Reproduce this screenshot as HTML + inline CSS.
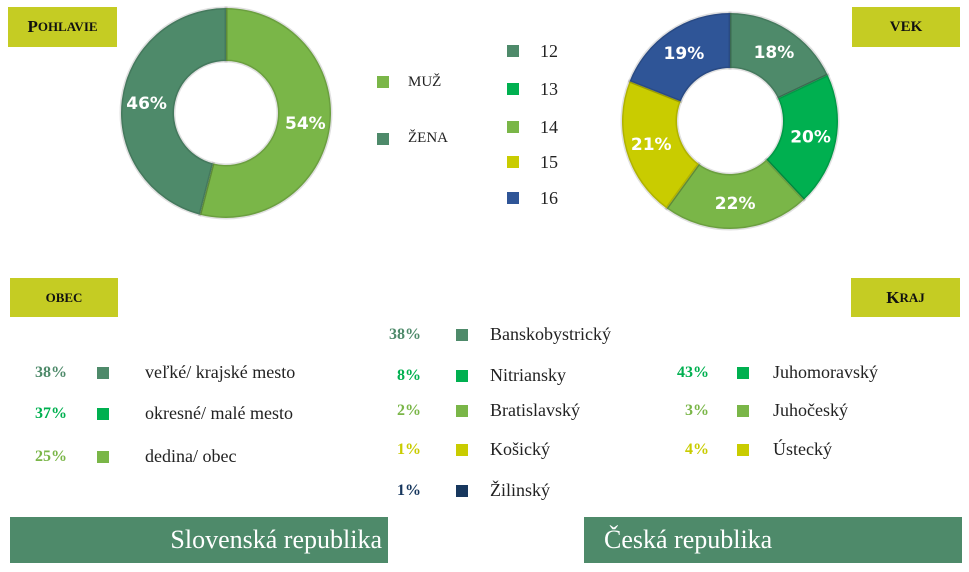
<!DOCTYPE html>
<html><head><meta charset="utf-8">
<style>
body{margin:0;width:969px;height:572px;background:#fff;position:relative;overflow:hidden;font-family:"Liberation Serif",serif;}
.tag{position:absolute;background:#c5cc23;color:#111;font-weight:bold;display:flex;align-items:center;justify-content:center;font-size:15px;}
.t{position:absolute;font-size:18px;color:#222;white-space:nowrap;line-height:1;}
.p{position:absolute;font-size:16px;font-weight:bold;white-space:nowrap;line-height:1;}
.sq{position:absolute;width:12px;height:12px;}
.bar{position:absolute;background:#4e8a6a;color:#fff;font-size:26px;display:flex;align-items:center;height:46px;top:517px;}
svg{position:absolute;left:0;top:0;}
</style></head><body>
<div class="tag" style="left:8px;top:7px;width:109px;height:40px;font-size:17px">P<span style="font-size:13px">OHLAVIE</span></div>
<div class="tag" style="left:852px;top:7px;width:108px;height:40px">VEK</div>
<div class="tag" style="left:10px;top:278px;width:108px;height:39px;font-size:13px">OBEC</div>
<div class="tag" style="left:851px;top:278px;width:109px;height:39px;font-size:17px">K<span style="font-size:13px">RAJ</span></div>

<svg width="969" height="572" id="chart"></svg>

<div class="sq" style="left:377px;top:76px;background:#7ab648"></div>
<div class="t" style="left:408px;top:75px;font-size:15px">MUŽ</div>
<div class="sq" style="left:377px;top:133px;background:#4e8a6a"></div>
<div class="t" style="left:408px;top:131px;font-size:15px">ŽENA</div>

<div id="agelegend"></div>

<div class="bar" style="left:10px;width:378px;justify-content:flex-end;padding-right:6px;box-sizing:border-box">Slovenská republika</div>
<div class="bar" style="left:584px;width:378px;padding-left:20px;box-sizing:border-box">Česká republika</div>

<div id="lists"></div>

<script>
const genderLabels=["MUŽ","ŽENA"];
const genderValues=[54,46];
const genderColors=["#7ab648","#4e8a6a"];
const ageLabels=["12","13","14","15","16"];
const ageValues=[18,20,22,21,19];
const ageColors=["#4e8a6a","#00b050","#7ab648","#c9cc00","#2f5597"];
const obecLabels=["veľké/ krajské mesto","okresné/ malé mesto","dedina/ obec"];
const obecValues=[38,37,25];
const obecColors=["#4e8a6a","#00b050","#7ab648"];
const skLabels=["Banskobystrický","Nitriansky","Bratislavský","Košický","Žilinský"];
const skValues=[38,8,2,1,1];
const skColors=["#4e8a6a","#00b050","#7ab648","#c9cc00","#17375e"];
const czLabels=["Juhomoravský","Juhočeský","Ústecký"];
const czValues=[43,3,4];
const czColors=["#00b050","#7ab648","#c9cc00"];

const NS="http://www.w3.org/2000/svg";
const svg=document.getElementById('chart');
function donut(cx,cy,R,r,vals,cols,name,labR){
  const tot=vals.reduce((a,b)=>a+b,0);let a0=0;
  vals.forEach((v,i)=>{
    const a1=a0+v/tot*2*Math.PI;
    const pt=(rad,a)=>[cx+rad*Math.sin(a),cy-rad*Math.cos(a)];
    const [x1,y1]=pt(R,a0),[x2,y2]=pt(R,a1),[x3,y3]=pt(r,a1),[x4,y4]=pt(r,a0);
    const lg=(a1-a0)>Math.PI?1:0;
    const p=document.createElementNS(NS,'path');
    p.setAttribute('d',`M${x1},${y1}A${R},${R} 0 ${lg} 1 ${x2},${y2}L${x3},${y3}A${r},${r} 0 ${lg} 0 ${x4},${y4}Z`);
    p.setAttribute('fill',cols[i]);p.setAttribute('stroke','rgba(0,0,0,0.12)');p.setAttribute('stroke-width','3');
    
    
    svg.appendChild(p);
    const am=(a0+a1)/2;const [lx,ly]=pt(labR,am);
    const t=document.createElementNS(NS,'text');
    t.setAttribute('x',lx);t.setAttribute('y',ly+6);t.setAttribute('text-anchor','middle');
    t.setAttribute('fill','#fff');t.setAttribute('font-weight','bold');t.setAttribute('font-size','17');
    t.setAttribute('font-family','"DejaVu Sans","Liberation Sans",sans-serif');
    t.textContent=v+'%';
    
    
    svg.appendChild(t);
    a0=a1;
  });
}
donut(226,113,105,52,genderValues,genderColors,'gender',80);
donut(730,121,108,53,ageValues,ageColors,'age',82);

const al=document.getElementById('agelegend');
ageLabels.forEach((l,i)=>{
  const ys=[45,83,121,156,192][i];
  const s=document.createElement('div');s.className='sq';s.style.cssText=`left:507px;top:${ys}px;background:${ageColors[i]}`;
  
  
  al.appendChild(s);
  const t=document.createElement('div');t.className='t';t.style.cssText=`left:540px;top:${ys-3}px;`;t.textContent=l;
  
  
  al.appendChild(t);
});

const lists=document.getElementById('lists');
function list(labels,vals,cols,ys,pctRight,sqX,txtX,name){
  labels.forEach((l,i)=>{
    const y=ys[i];
    const p=document.createElement('div');p.className='p';p.style.cssText=`right:${969-pctRight}px;top:${y-8}px;color:${cols[i]}`;p.textContent=vals[i]+'%';
    
    
    lists.appendChild(p);
    const s=document.createElement('div');s.className='sq';s.style.cssText=`left:${sqX}px;top:${y-6}px;background:${cols[i]}`;
    
    
    lists.appendChild(s);
    const t=document.createElement('div');t.className='t';t.style.cssText=`left:${txtX}px;top:${y-10}px`;t.textContent=l;
    
    
    lists.appendChild(t);
  });
}
list(obecLabels,obecValues,obecColors,[373,414,457],67,97,145,'obec');
list(skLabels,skValues,skColors,[335,376,411,450,491],421,456,490,'sk-kraj');
list(czLabels,czValues,czColors,[373,411,450],709,737,773,'cz-kraj');
</script>
</body></html>
